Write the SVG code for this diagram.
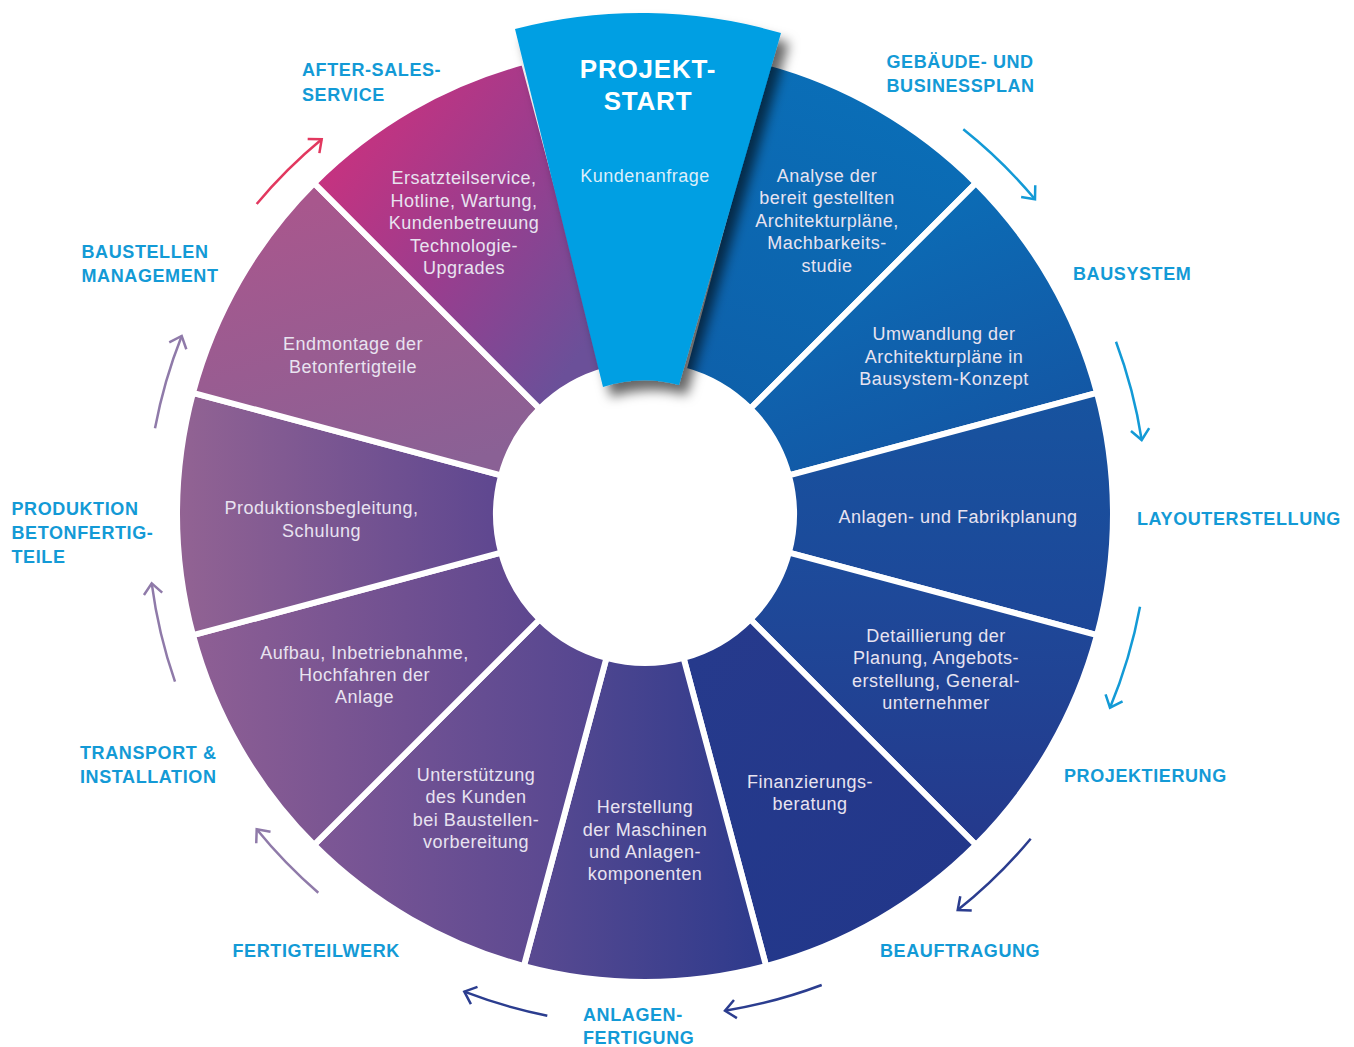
<svg xmlns="http://www.w3.org/2000/svg" width="1354" height="1047" viewBox="0 0 1354 1047">
<style>
.seg{stroke:#fff;stroke-width:6;stroke-linejoin:miter}
.st{font-family:"Liberation Sans",Arial,sans-serif;font-size:18px;fill:#e8e3f0;text-anchor:middle;letter-spacing:0.5px}
.lbl{font-family:"Liberation Sans",Arial,sans-serif;font-weight:bold;font-size:18px;fill:#139ad6;letter-spacing:0.6px}
.arr{fill:none;stroke-width:2.5}
.hd{fill:none;stroke-width:2.5}
</style>
<defs>
<linearGradient id="g1" gradientUnits="userSpaceOnUse" x1="830" y1="80" x2="720" y2="420"><stop offset="0" stop-color="#0a6eb7"/><stop offset="1" stop-color="#0e5fa9"/></linearGradient>
<linearGradient id="g2" gradientUnits="userSpaceOnUse" x1="900" y1="200" x2="1000" y2="460"><stop offset="0" stop-color="#0b6db6"/><stop offset="1" stop-color="#1455a3"/></linearGradient>
<linearGradient id="g3" gradientUnits="userSpaceOnUse" x1="950" y1="400" x2="950" y2="640"><stop offset="0" stop-color="#17539f"/><stop offset="1" stop-color="#1e4698"/></linearGradient>
<linearGradient id="g4" gradientUnits="userSpaceOnUse" x1="900" y1="560" x2="900" y2="860"><stop offset="0" stop-color="#1d4b9b"/><stop offset="1" stop-color="#25388b"/></linearGradient>
<linearGradient id="g5" gradientUnits="userSpaceOnUse" x1="700" y1="650" x2="950" y2="900"><stop offset="0" stop-color="#263a8c"/><stop offset="1" stop-color="#22378a"/></linearGradient>
<linearGradient id="g6" gradientUnits="userSpaceOnUse" x1="525" y1="0" x2="770" y2="0"><stop offset="0" stop-color="#5a4a91"/><stop offset="1" stop-color="#2c3a8c"/></linearGradient>
<linearGradient id="g7" gradientUnits="userSpaceOnUse" x1="315" y1="0" x2="600" y2="0"><stop offset="0" stop-color="#7e5795"/><stop offset="1" stop-color="#544690"/></linearGradient>
<linearGradient id="g8" gradientUnits="userSpaceOnUse" x1="195" y1="0" x2="545" y2="0"><stop offset="0" stop-color="#8e5f94"/><stop offset="1" stop-color="#5c468f"/></linearGradient>
<linearGradient id="g9" gradientUnits="userSpaceOnUse" x1="180" y1="0" x2="500" y2="0"><stop offset="0" stop-color="#926393"/><stop offset="1" stop-color="#5e4790"/></linearGradient>
<linearGradient id="g10" gradientUnits="userSpaceOnUse" x1="320" y1="200" x2="400" y2="480"><stop offset="0" stop-color="#a8578d"/><stop offset="1" stop-color="#8a6195"/></linearGradient>
<linearGradient id="g11" gradientUnits="userSpaceOnUse" x1="330" y1="150" x2="590" y2="340"><stop offset="0" stop-color="#c8327f"/><stop offset="0.5" stop-color="#9a3d8e"/><stop offset="1" stop-color="#6b5099"/></linearGradient>
<filter id="sh" x="-20%" y="-10%" width="150%" height="130%"><feDropShadow dx="8" dy="10" stdDeviation="6" flood-color="#000" flood-opacity="0.6"/></filter>
<marker id="mCyan" viewBox="-13 -11 15 22" refX="0" refY="0" markerWidth="15" markerHeight="22" markerUnits="userSpaceOnUse" orient="auto" overflow="visible"><path class="hd" d="M-10.6,-9.2 L0,0 L-10.6,9.2" stroke="#139ad6"/></marker>
<marker id="mNavy" viewBox="-13 -11 15 22" refX="0" refY="0" markerWidth="15" markerHeight="22" markerUnits="userSpaceOnUse" orient="auto" overflow="visible"><path class="hd" d="M-10.6,-9.2 L0,0 L-10.6,9.2" stroke="#2b3d8f"/></marker>
<marker id="mMauve" viewBox="-13 -11 15 22" refX="0" refY="0" markerWidth="15" markerHeight="22" markerUnits="userSpaceOnUse" orient="auto" overflow="visible"><path class="hd" d="M-10.6,-9.2 L0,0 L-10.6,9.2" stroke="#8f7aa9"/></marker>
<marker id="mRed" viewBox="-13 -11 15 22" refX="0" refY="0" markerWidth="15" markerHeight="22" markerUnits="userSpaceOnUse" orient="auto" overflow="visible"><path class="hd" d="M-10.6,-9.2 L0,0 L-10.6,9.2" stroke="#e2385f"/></marker>
</defs>
<rect width="1354" height="1047" fill="#fff"/>

<g id="segments">
<g id="seg-analyse">
<path class="seg" fill="url(#g1)" d="M766.13 61.95 A468 468 0 0 1 975.93 183.07 L750.36 408.64 A149 149 0 0 0 683.56 370.08 Z"/>
<text class="st" x="827" y="181.7">Analyse der</text>
<text class="st" x="827" y="204.2">bereit gestellten</text>
<text class="st" x="827" y="226.7">Architekturpläne,</text>
<text class="st" x="827" y="249.2">Machbarkeits-</text>
<text class="st" x="827" y="271.7">studie</text>
</g>
<g id="seg-umwandlung">
<path class="seg" fill="url(#g2)" d="M975.93 183.07 A468 468 0 0 1 1097.05 392.87 L788.92 475.44 A149 149 0 0 0 750.36 408.64 Z"/>
<text class="st" x="944" y="340">Umwandlung der</text>
<text class="st" x="944" y="362.5">Architekturpläne in</text>
<text class="st" x="944" y="385">Bausystem-Konzept</text>
</g>
<g id="seg-anlagen">
<path class="seg" fill="url(#g3)" d="M1097.05 392.87 A468 468 0 0 1 1097.05 635.13 L788.92 552.56 A149 149 0 0 0 788.92 475.44 Z"/>
<text class="st" x="958" y="523">Anlagen- und Fabrikplanung</text>
</g>
<g id="seg-detaillierung">
<path class="seg" fill="url(#g4)" d="M1097.05 635.13 A468 468 0 0 1 975.93 844.93 L750.36 619.36 A149 149 0 0 0 788.92 552.56 Z"/>
<text class="st" x="936" y="642">Detaillierung der</text>
<text class="st" x="936" y="664.3">Planung, Angebots-</text>
<text class="st" x="936" y="686.5">erstellung, General-</text>
<text class="st" x="936" y="708.7">unternehmer</text>
</g>
<g id="seg-finanzierung">
<path class="seg" fill="url(#g5)" d="M975.93 844.93 A468 468 0 0 1 766.13 966.05 L683.56 657.92 A149 149 0 0 0 750.36 619.36 Z"/>
<text class="st" x="810" y="787.7">Finanzierungs-</text>
<text class="st" x="810" y="810">beratung</text>
</g>
<g id="seg-herstellung">
<path class="seg" fill="url(#g6)" d="M766.13 966.05 A468 468 0 0 1 523.87 966.05 L606.44 657.92 A149 149 0 0 0 683.56 657.92 Z"/>
<text class="st" x="645" y="813">Herstellung</text>
<text class="st" x="645" y="835.5">der Maschinen</text>
<text class="st" x="645" y="858">und Anlagen-</text>
<text class="st" x="645" y="880">komponenten</text>
</g>
<g id="seg-unterstuetzung">
<path class="seg" fill="url(#g7)" d="M523.87 966.05 A468 468 0 0 1 314.07 844.93 L539.64 619.36 A149 149 0 0 0 606.44 657.92 Z"/>
<text class="st" x="476" y="781">Unterstützung</text>
<text class="st" x="476" y="803.3">des Kunden</text>
<text class="st" x="476" y="826">bei Baustellen-</text>
<text class="st" x="476" y="848.3">vorbereitung</text>
</g>
<g id="seg-aufbau">
<path class="seg" fill="url(#g8)" d="M314.07 844.93 A468 468 0 0 1 192.95 635.13 L501.08 552.56 A149 149 0 0 0 539.64 619.36 Z"/>
<text class="st" x="364.5" y="658.7">Aufbau, Inbetriebnahme,</text>
<text class="st" x="364.5" y="681">Hochfahren der</text>
<text class="st" x="364.5" y="703">Anlage</text>
</g>
<g id="seg-produktion">
<path class="seg" fill="url(#g9)" d="M192.95 635.13 A468 468 0 0 1 192.95 392.87 L501.08 475.44 A149 149 0 0 0 501.08 552.56 Z"/>
<text class="st" x="321.5" y="514.3">Produktionsbegleitung,</text>
<text class="st" x="321.5" y="536.5">Schulung</text>
</g>
<g id="seg-endmontage">
<path class="seg" fill="url(#g10)" d="M192.95 392.87 A468 468 0 0 1 314.07 183.07 L539.64 408.64 A149 149 0 0 0 501.08 475.44 Z"/>
<text class="st" x="353" y="350.3">Endmontage der</text>
<text class="st" x="353" y="372.7">Betonfertigteile</text>
</g>
<g id="seg-ersatzteil">
<path class="seg" fill="url(#g11)" d="M314.07 183.07 A468 468 0 0 1 523.87 61.95 L606.44 370.08 A149 149 0 0 0 539.64 408.64 Z"/>
<text class="st" x="464" y="184.3">Ersatzteilservice,</text>
<text class="st" x="464" y="206.7">Hotline, Wartung,</text>
<text class="st" x="464" y="229.2">Kundenbetreuung</text>
<text class="st" x="464" y="251.7">Technologie-</text>
<text class="st" x="464" y="273.5">Upgrades</text>
</g>
</g>

<g id="projekt-start">
<path fill="#009fe3" filter="url(#sh)" d="M515 29 A502 502 0 0 1 781 33 L679 385 A133 133 0 0 0 603 387 Z"/>
<text x="648" y="78" font-family="'Liberation Sans',Arial,sans-serif" font-weight="bold" font-size="26" fill="#fff" text-anchor="middle" letter-spacing="0.8">PROJEKT-</text>
<text x="648" y="110" font-family="'Liberation Sans',Arial,sans-serif" font-weight="bold" font-size="26" fill="#fff" text-anchor="middle" letter-spacing="0.8">START</text>
<text class="st" x="645" y="181.7" style="fill:#dceefa">Kundenanfrage</text>
</g>

<g id="labels">
<g id="lbl-aftersales"><text class="lbl" x="302" y="76">AFTER-SALES-</text><text class="lbl" x="302" y="100.5">SERVICE</text></g>
<g id="lbl-gebaeude"><text class="lbl" x="886.5" y="68.3">GEBÄUDE- UND</text><text class="lbl" x="886.5" y="91.7">BUSINESSPLAN</text></g>
<g id="lbl-bausystem"><text class="lbl" x="1073" y="280">BAUSYSTEM</text></g>
<g id="lbl-layout"><text class="lbl" x="1137" y="525">LAYOUTERSTELLUNG</text></g>
<g id="lbl-projektierung"><text class="lbl" x="1064" y="781.5">PROJEKTIERUNG</text></g>
<g id="lbl-beauftragung"><text class="lbl" x="880" y="956.5">BEAUFTRAGUNG</text></g>
<g id="lbl-anlagenfertigung"><text class="lbl" x="583" y="1020.5">ANLAGEN-</text><text class="lbl" x="583" y="1043.5">FERTIGUNG</text></g>
<g id="lbl-fertigteilwerk"><text class="lbl" x="232.5" y="957.3">FERTIGTEILWERK</text></g>
<g id="lbl-transport"><text class="lbl" x="80" y="759.3">TRANSPORT &amp;</text><text class="lbl" x="80" y="783.3">INSTALLATION</text></g>
<g id="lbl-produktion"><text class="lbl" x="11.5" y="515">PRODUKTION</text><text class="lbl" x="11.5" y="538.5">BETONFERTIG-</text><text class="lbl" x="11.5" y="562.5">TEILE</text></g>
<g id="lbl-baustellen"><text class="lbl" x="81.5" y="257.7">BAUSTELLEN</text><text class="lbl" x="81.5" y="281.7">MANAGEMENT</text></g>
</g>

<g id="connectors">
<path class="arr" stroke="#139ad6" marker-end="url(#mCyan)" d="M963.3 129.3 A500 500 0 0 1 1035 199.3"/>
<path class="arr" stroke="#139ad6" marker-end="url(#mCyan)" d="M1116 341.7 A502 502 0 0 1 1141.7 440"/>
<path class="arr" stroke="#139ad6" marker-end="url(#mCyan)" d="M1140 606.7 A504 504 0 0 1 1110 707.7"/>
<path class="arr" stroke="#2b3d8f" marker-end="url(#mNavy)" d="M1030.7 838.7 A504 504 0 0 1 957.7 910"/>
<path class="arr" stroke="#2b3d8f" marker-end="url(#mNavy)" d="M821.7 985 A503 503 0 0 1 725 1010.7"/>
<path class="arr" stroke="#2b3d8f" marker-end="url(#mNavy)" d="M547.3 1015.7 A511 511 0 0 1 464.3 991.7"/>
<path class="arr" stroke="#8f7aa9" marker-end="url(#mMauve)" d="M318.3 892.7 A500 500 0 0 1 256.7 829.3"/>
<path class="arr" stroke="#8f7aa9" marker-end="url(#mMauve)" d="M175 681.7 A499 499 0 0 1 151.7 583.3"/>
<path class="arr" stroke="#8f7aa9" marker-end="url(#mMauve)" d="M155 428.3 A497 497 0 0 1 181.7 336"/>
<path class="arr" stroke="#e2385f" marker-end="url(#mRed)" d="M256.7 204 A496 496 0 0 1 321.7 139.3"/>
</g>
</svg>
